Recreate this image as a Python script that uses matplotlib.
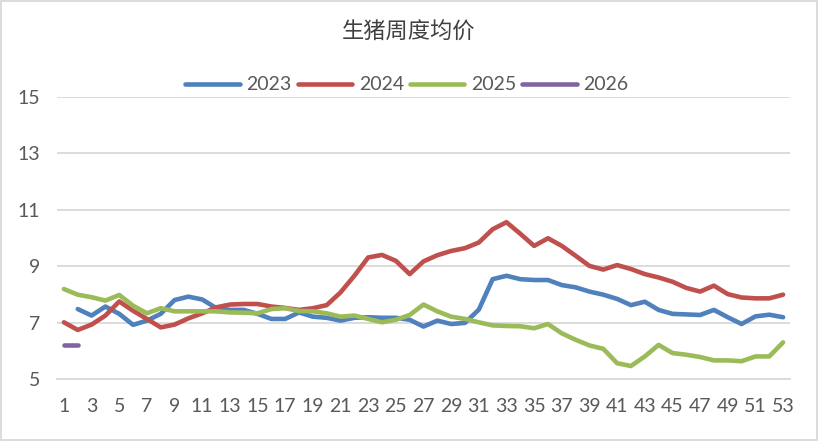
import numpy as np
import matplotlib
matplotlib.use("Agg")
import matplotlib.pyplot as plt
from matplotlib.patches import Rectangle

weeks = list(range(1, 54))
xtick_labels = [str(w) for w in range(1, 54, 2)]

s2023 = [np.nan, 7.48, 7.25, 7.57, 7.31, 6.92, 7.07, 7.31, 7.80, 7.92,
         7.82, 7.52, 7.45, 7.45, 7.31, 7.13, 7.13, 7.36, 7.21, 7.17,
         7.07, 7.17, 7.19, 7.17, 7.17, 7.10, 6.86, 7.07, 6.95, 6.99,
         7.46, 8.54, 8.66, 8.54, 8.51, 8.51, 8.33, 8.25, 8.10, 7.99,
         7.84, 7.62, 7.74, 7.45, 7.31, 7.29, 7.27, 7.45, 7.19, 6.95,
         7.22, 7.28, 7.19]
s2024 = [7.01, 6.74, 6.93, 7.25, 7.75, 7.42, 7.13, 6.83, 6.93, 7.15,
         7.33, 7.54, 7.64, 7.66, 7.66, 7.57, 7.52, 7.45, 7.51, 7.62,
         8.07, 8.66, 9.31, 9.40, 9.19, 8.72, 9.17, 9.39, 9.54, 9.64,
         9.84, 10.31, 10.56, 10.15, 9.72, 9.99, 9.72, 9.37, 9.01, 8.88,
         9.04, 8.90, 8.72, 8.60, 8.45, 8.23, 8.10, 8.31, 8.01, 7.89,
         7.86, 7.86, 7.99]
s2025 = [8.19, 7.99, 7.90, 7.78, 7.98, 7.60, 7.33, 7.51, 7.40, 7.40,
         7.40, 7.40, 7.36, 7.35, 7.33, 7.48, 7.51, 7.41, 7.40, 7.33,
         7.21, 7.25, 7.13, 7.01, 7.10, 7.27, 7.64, 7.40, 7.21, 7.13,
         7.01, 6.90, 6.88, 6.87, 6.80, 6.95, 6.62, 6.39, 6.19, 6.07,
         5.56, 5.46, 5.80, 6.21, 5.92, 5.86, 5.78, 5.66, 5.66, 5.63,
         5.80, 5.80, 6.30]
s2026 = [6.22, 6.22]

series_names = ["2023", "2024", "2025", "2026"]
series_vals = [s2023, s2024, s2025, s2026]
colors = ["#4f81bd", "#c0504d", "#9bbb59", "#8064a2"]

yticks = [5, 7, 9, 11, 13, 15]

plt.rcParams['font.family'] = ['Lato', 'Noto Sans CJK SC', 'DejaVu Sans']

fig = plt.figure(figsize=(8.22, 4.42), dpi=100)
ax = fig.add_axes([57/822, 1-379/442, (790-57)/822, (379-97)/442])

for name, vals, c in zip(series_names, series_vals, colors):
    ax.plot(weeks[:len(vals)], vals, color=c, lw=3.3, label=name,
            solid_capstyle='round', solid_joinstyle='round')

ax.set_xlim(0.5, 53.5)
ax.set_ylim(5, 15)
ax.set_yticks(yticks)
ax.set_yticklabels([str(v) for v in yticks])
ax.set_xticks(list(range(1, 54, 2)))
ax.set_xticklabels(xtick_labels)
ax.tick_params(axis='both', length=0, labelsize=14, labelcolor='#595959')
ax.tick_params(axis='y', pad=12)
ax.tick_params(axis='x', pad=14)
ax.grid(axis='y', color='#d9d9d9', lw=1.3)
ax.set_axisbelow(True)
for sp in ['top', 'right', 'left']:
    ax.spines[sp].set_visible(False)
ax.spines['bottom'].set_color('#d9d9d9')
ax.spines['bottom'].set_linewidth(1.3)

fig.text(409/822, 1-32/442, "生猪周度均价", ha='center', va='center',
         fontsize=16, color='#404040', fontweight='medium',
         family=['Noto Sans CJK SC', 'DejaVu Sans'])

leg = fig.legend(loc='center', bbox_to_anchor=(407/822, 1-85/442), ncol=4,
                 frameon=False, fontsize=14, handlelength=2.8,
                 handletextpad=0.35, columnspacing=0.3, borderpad=0)
for t in leg.get_texts():
    t.set_color('#595959')

fig.patches.append(Rectangle((1/822, 1-440/442), 816/822, 439/442,
                             transform=fig.transFigure, fill=False,
                             edgecolor='#d9d9d9', lw=1.3))

fig.savefig("out.png", dpi=100)
